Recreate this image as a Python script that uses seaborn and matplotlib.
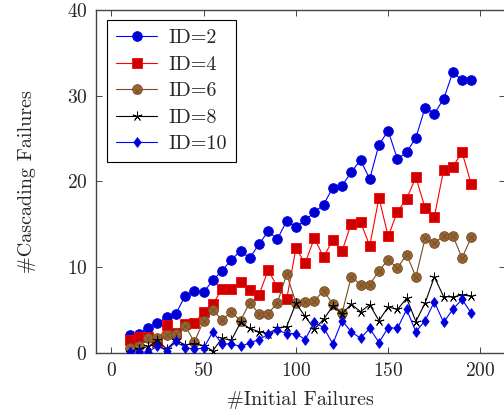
import matplotlib
matplotlib.use("Agg")
import matplotlib.pyplot as plt
from matplotlib.legend_handler import HandlerTuple
import seaborn as sns

# values
initial = [10, 15, 20, 25, 30, 35, 40, 45, 50, 55, 60, 65, 70, 75, 80, 85, 90, 95, 100,
           105, 110, 115, 120, 125, 130, 135, 140, 145, 150, 155, 160, 165, 170, 175,
           180, 185, 190, 195]
id2 = [2.1, 2.3, 3.0, 3.5, 4.2, 4.6, 6.7, 7.3, 7.1, 8.5, 9.6, 10.9, 11.9, 11.1, 12.7, 14.2,
       13.3, 15.4, 14.7, 15.5, 16.4, 17.3, 19.3, 19.5, 21.1, 22.5, 20.3, 24.3, 25.9, 22.6,
       23.4, 25.1, 28.6, 27.9, 29.6, 32.7, 31.8, 31.8]
id4 = [1.6, 1.9, 1.9, 1.3, 3.3, 2.4, 3.4, 3.5, 4.8, 5.7, 7.5, 7.5, 8.3, 7.4, 6.8, 9.7,
       7.7, 6.3, 12.2, 10.5, 13.4, 11.2, 13.2, 11.9, 15.1, 15.3, 12.5, 18.1, 13.6, 16.5,
       18.0, 20.5, 16.9, 15.9, 21.3, 21.7, 23.4, 19.7]
id6 = [0.6, 0.9, 1.8, 1.8, 2.1, 2.3, 3.2, 1.3, 3.8, 5.0, 3.9, 4.8, 3.8, 5.9, 4.6, 4.6,
       5.9, 9.2, 5.9, 6.0, 6.1, 7.3, 5.7, 4.7, 8.9, 8.0, 8.0, 9.6, 10.9, 9.9, 11.5, 8.9,
       13.4, 12.8, 13.7, 13.7, 11.1, 13.5]
id8 = [0.2, 0.5, 0.8, 1.5, 0.5, 1.5, 1.0, 1.1, 0.9, 0.3, 1.75, 1.5, 3.6, 2.9, 2.5, 2.3,
       2.9, 3.1, 5.8, 4.3, 2.8, 3.95, 5.5, 4.6, 5.7, 4.85, 5.65, 3.8, 5.4, 5.1, 6.4, 3.7,
       5.85, 8.9, 6.6, 6.55, 6.8, 6.65]
id10 = [0.15, 0.15, 0.15, 0.85, 0.3, 1.4, 0.65, 0.5, 0.6, 2.5, 1.1, 1.1, 0.8, 1.2, 1.6,
        2.2, 2.7, 2.3, 2.3, 1.6, 3.6, 3.0, 1.1, 3.8, 2.5, 1.75, 2.9, 1.25, 3.0, 2.9, 5.1,
        2.5, 3.8, 6.0, 3.6, 5.1, 6.3, 4.65]
labels = ["ID=2", "ID=4", "ID=6", "ID=8", "ID=10"]
x_ticks = [0, 50, 100, 150, 200]
y_ticks = [0, 10, 20, 30, 40]

sns.set_style("ticks")
plt.rcParams["font.family"] = ["cmr10", "DejaVu Serif"]
plt.rcParams["axes.formatter.use_mathtext"] = True
plt.rcParams["font.size"] = 14

blue = (0, 0, 1)
blue_fill = (0, 0, 0.8)
red = (1, 0, 0)
red_fill = (0.8, 0, 0)
brown_line = (0.45, 0.3, 0.15)
brown_fill = (0.6, 0.4, 0.2)
diamond = [(0, 1), (0.75, 0), (0, -1), (-0.75, 0), (0, 1)]

fig = plt.figure(figsize=(5.04, 4.17), dpi=100)
ax = fig.add_axes([0.1897, 0.1528, 0.8131, 0.8239])

common = dict(linewidth=0.8, markeredgewidth=0.6, ax=ax, legend=False, errorbar=None)
sns.lineplot(x=initial, y=id2, color=blue, marker="o", markersize=7,
             markerfacecolor=blue_fill, markeredgecolor=blue, zorder=2, **common)
sns.lineplot(x=initial, y=id4, color=red, marker="s", markersize=6.6,
             markerfacecolor=red_fill, markeredgecolor=red, zorder=3, **common)
sns.lineplot(x=initial, y=id6, color=brown_line, marker="o", markersize=7,
             markerfacecolor=brown_fill, markeredgecolor=brown_line, zorder=4, **common)
sns.scatterplot(x=initial, y=id6, marker="x", s=16, color=brown_line, linewidth=0.6,
                ax=ax, legend=False, zorder=5)
sns.lineplot(x=initial, y=id8, color="black", marker=(5, 2, 0), markersize=7,
             markeredgecolor="black", zorder=6, **common)
sns.lineplot(x=initial, y=id10, color=blue, marker=diamond, markersize=7,
             markerfacecolor=blue_fill, markeredgecolor=blue, zorder=7, **common)

lines = ax.get_lines()
hatch = ax.collections[-1]
handles = [lines[0], lines[1], (lines[2], hatch), lines[3], lines[4]]
leg = ax.legend(handles, labels, loc="upper left", bbox_to_anchor=(0.0286, 0.970),
                borderaxespad=0, fancybox=False, framealpha=1, edgecolor="black",
                handlelength=2.0, handletextpad=0.6, labelspacing=0.42, borderpad=0.45,
                fontsize=14.5, handler_map={tuple: HandlerTuple(ndivide=1)})
leg.get_frame().set_linewidth(0.8)

ax.set_xlim(-8.5, 213.5)
ax.set_ylim(0, 40)
ax.set_xticks(x_ticks)
ax.set_yticks(y_ticks)
ax.tick_params(direction="in", top=True, right=True, length=4, width=0.7,
               color="#444444", labelsize=14, pad=6)
for s in ax.spines.values():
    s.set_linewidth(1.0)
    s.set_color("#444444")

ax.set_xlabel("#Initial Failures", fontsize=14.5, labelpad=8)
ax.set_ylabel("#Cascading Failures", fontsize=14.5, labelpad=22)

fig.savefig("out.png", dpi=100)
